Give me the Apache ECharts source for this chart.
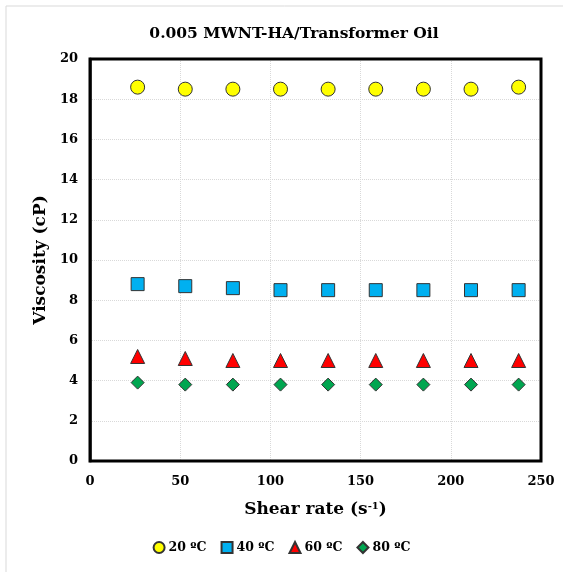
<!DOCTYPE html>
<html>
<head>
<meta charset="utf-8">
<script src="https://cdn.jsdelivr.net/npm/echarts@6/dist/echarts.min.js"></script>
<style>
  html, body { margin: 0; padding: 0; background: #fff; }
  #main { width: 563px; height: 572px; }
</style>
</head>
<body>
<div id="main"></div>
<script>
var shearRate = [26.4, 52.8, 79.2, 105.6, 132, 158.4, 184.8, 211.2, 237.6];
var visc20 = [18.6, 18.5, 18.5, 18.5, 18.5, 18.5, 18.5, 18.5, 18.6];
var visc40 = [8.8, 8.7, 8.6, 8.5, 8.5, 8.5, 8.5, 8.5, 8.5];
var visc60 = [5.2, 5.1, 5.0, 5.0, 5.0, 5.0, 5.0, 5.0, 5.0];
var visc80 = [3.9, 3.8, 3.8, 3.8, 3.8, 3.8, 3.8, 3.8, 3.8];
var seriesNames = ['20 ºC', '40 ºC', '60 ºC', '80 ºC'];

var font = 'DejaVu Serif';

function pairs(ys) {
  return shearRate.map(function (x, i) { return [x, ys[i]]; });
}

var myChart = echarts.init(document.getElementById('main'));

var option = {
  backgroundColor: '#fff',
  animation: false,
  title: {
    text: '0.005 MWNT-HA/Transformer Oil',
    left: 289,
    textAlign: 'center',
    top: 21,
    textStyle: { fontFamily: font, fontWeight: 'bold', fontSize: 15.5, color: '#000' }
  },
  grid: { left: 90, right: 22, top: 59, bottom: 111, containLabel: false },
  graphic: [
    { type: 'line', shape: { x1: 6, y1: 6, x2: 563, y2: 6 }, style: { stroke: '#d9d9d9', lineWidth: 1 } },
    { type: 'line', shape: { x1: 6, y1: 6, x2: 6, y2: 572 }, style: { stroke: '#d9d9d9', lineWidth: 1 } },
    { type: 'rect', shape: { x: 90, y: 59, width: 451, height: 402 }, style: { fill: 'none', stroke: '#000', lineWidth: 3 }, z: 10 }
  ],
  legend: {
    bottom: 13,
    left: 'center',
    itemWidth: 11,
    itemHeight: 11,
    itemGap: 14,
    textStyle: { fontFamily: font, fontWeight: 'bold', fontSize: 12.5, color: '#000', padding: [0, 0, 0, -1] },
    data: seriesNames
  },
  xAxis: {
    type: 'value',
    min: 0, max: 250, interval: 50,
    name: '{a|Shear rate (s}{s|-1}{a|)}',
    nameLocation: 'middle',
    nameGap: 40,
    nameTextStyle: {
      rich: {
        a: { fontFamily: font, fontWeight: 'bold', fontSize: 17, color: '#000' },
        s: { fontFamily: font, fontWeight: 'bold', fontSize: 10, color: '#000', verticalAlign: 'top', padding: [0, 0, 8, 0] }
      }
    },
    axisLine: { show: true, onZero: false, lineStyle: { color: '#000', width: 2 } },
    axisTick: { show: false },
    axisLabel: { margin: 14, fontFamily: font, fontWeight: 'bold', fontSize: 13, color: '#000' },
    splitLine: { show: true, lineStyle: { color: '#d9d9d9', type: 'dotted' } }
  },
  yAxis: {
    type: 'value',
    min: 0, max: 20, interval: 2,
    name: 'Viscosity (cP)',
    nameLocation: 'middle',
    nameGap: 37,
    nameTextStyle: { fontFamily: font, fontWeight: 'bold', fontSize: 17, color: '#000' },
    axisLine: { show: true, onZero: false, lineStyle: { color: '#555', width: 3 } },
    axisTick: { show: false },
    axisLabel: { margin: 12, fontFamily: font, fontWeight: 'bold', fontSize: 13, color: '#000' },
    splitLine: { show: true, lineStyle: { color: '#d9d9d9', type: 'dotted' } }
  },
  series: [
    {
      name: seriesNames[0], type: 'scatter', symbol: 'circle', symbolSize: 14,
      itemStyle: { color: '#ffff00', borderColor: '#333', borderWidth: 1, opacity: 1 },
      data: pairs(visc20)
    },
    {
      name: seriesNames[1], type: 'scatter', symbol: 'rect', symbolSize: 13,
      itemStyle: { color: '#00b0f0', borderColor: '#333', borderWidth: 1, opacity: 1 },
      data: pairs(visc40)
    },
    {
      name: seriesNames[2], type: 'scatter', symbol: 'triangle', symbolSize: 14,
      itemStyle: { color: '#ff0000', borderColor: '#333', borderWidth: 1, opacity: 1 },
      data: pairs(visc60)
    },
    {
      name: seriesNames[3], type: 'scatter', symbol: 'diamond', symbolSize: 13,
      itemStyle: { color: '#00a650', borderColor: '#333', borderWidth: 1, opacity: 1 },
      data: pairs(visc80)
    }
  ]
};

myChart.setOption(option);
window.addEventListener('resize', function () {
  myChart.resize();
});
</script>
</body>
</html>
